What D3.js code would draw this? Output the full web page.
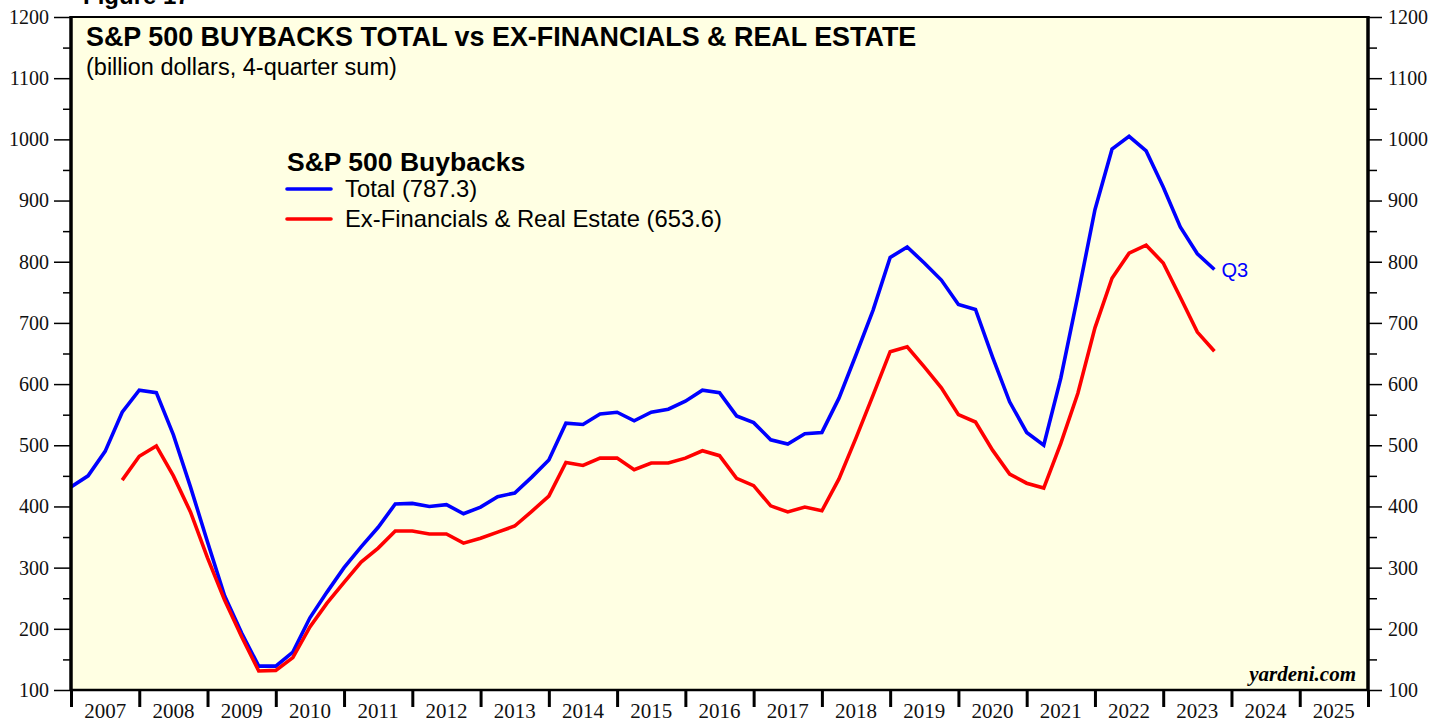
<!DOCTYPE html>
<html><head><meta charset="utf-8">
<script src="https://cdn.jsdelivr.net/npm/d3@7"></script>
<style>body{margin:0;background:#fff;}svg{display:block;}</style>
</head><body>
<svg id="chart" width="1448" height="721"></svg>
<script>
// ---- data (billion dollars, 4-quarter sum), quarterly from 2006Q4 to 2023Q3 ----
const firstYear = 2006, firstQ = 4;
const totalBuybacks = [432,450,490,554,590,586,517,432,342,254,193,139,139,162,218,260,300,334,366,404,405,400,403,388,399,416,422,448,476,536,534,551,554,540,554,559,572,590,586,548,537,509,502,519,521,577,648,721,807,824,798,770,730,722,644,571,521,500,610,745,885,984,1005,981,922,857,813,787.3];
const exFinRE = [null,null,null,443,482,499,450,391,316,247,187,131,132,153,203,242,276,309,332,360,360,355,355,340,348,358,368,392,417,472,467,479,479,460,471,471,479,491,483,446,434,401,391,399,393,445,512,582,653,661,628,594,550,538,492,453,438,430,503,585,692,773,814,827,798,742,685,653.6];
const yearLabels = ["2007","2008","2009","2010","2011","2012","2013","2014","2015","2016","2017","2018","2019","2020","2021","2022","2023","2024","2025"];
const yTicks = [100,200,300,400,500,600,700,800,900,1000,1100,1200];
const yMinorTicks = [150,250,350,450,550,650,750,850,950,1050,1150];
const seriesNames = ["Total (787.3)", "Ex-Financials & Real Estate (653.6)"];
const seriesColors = ["#0000ff", "#ff0000"];

// quarter-end position in fractional years
const quarterPos = totalBuybacks.map((_, i) => {
  const q = firstQ - 1 + i;
  return firstYear + Math.floor(q / 4) + ((q % 4) + 1) / 4;
});

const svg = d3.select("#chart");
const L = 71, R = 1368, T = 17, B = 690;
const x = d3.scaleLinear().domain([2007, 2026]).range([L, R]);
const y = d3.scaleLinear().domain([100, 1200]).range([B, T]);

svg.append("rect").attr("x", L).attr("y", T).attr("width", R - L).attr("height", B - T).attr("fill", "#ffffe3");

// Figure label (cut off at top)
svg.append("text").attr("x", 83).attr("y", 4).attr("font-family", "Liberation Sans, Arial, sans-serif")
  .attr("font-weight", "bold").attr("font-size", 24).text("Figure 17");

// series lines
const line = d3.line().defined(d => d[1] != null).x(d => x(d[0])).y(d => y(d[1]));
svg.append("clipPath").attr("id", "clip").append("rect").attr("x", L).attr("y", T).attr("width", R - L).attr("height", B - T);
[totalBuybacks, exFinRE].forEach((s, k) => {
  svg.append("path").datum(quarterPos.map((p, i) => [p, s[i]]))
    .attr("d", line).attr("fill", "none").attr("stroke", seriesColors[k])
    .attr("stroke-width", 3.6).attr("stroke-linejoin", "miter").attr("clip-path", "url(#clip)");
});

// axes
const serif = "Liberation Serif, Times New Roman, serif";
const leftAxis = d3.axisLeft(y).tickValues(yTicks).tickSize(17).tickPadding(5).tickFormat(d3.format("d"));
const gl = svg.append("g").attr("transform", `translate(${L},0)`).call(leftAxis);
const rightAxis = d3.axisRight(y).tickValues(yTicks).tickSize(14).tickPadding(6).tickFormat(d3.format("d"));
const gr = svg.append("g").attr("transform", `translate(${R},0)`).call(rightAxis);
[gl, gr].forEach(g => {
  g.select(".domain").remove();
  g.selectAll("line").attr("stroke", "#000").attr("stroke-width", 1.5);
  g.selectAll("text").attr("font-family", serif).attr("font-size", 20).attr("fill", "#111");
});
const glm = svg.append("g").attr("transform", `translate(${L},0)`).call(d3.axisLeft(y).tickValues(yMinorTicks).tickSize(8).tickFormat(""));
const grm = svg.append("g").attr("transform", `translate(${R},0)`).call(d3.axisRight(y).tickValues(yMinorTicks).tickSize(9).tickFormat(""));
[glm, grm].forEach(g => { g.select(".domain").remove(); g.selectAll("line").attr("stroke", "#000").attr("stroke-width", 1.5); });

// bottom axis: year boundaries ticks, labels centered in year
const yearBounds = yearLabels.map(d => +d).concat([+yearLabels[yearLabels.length - 1] + 1]);
const gb = svg.append("g").attr("transform", `translate(0,${B})`)
  .call(d3.axisBottom(x).tickValues(yearBounds).tickSize(17).tickFormat(""));
gb.select(".domain").remove();
gb.selectAll("line").attr("stroke", "#000").attr("stroke-width", 3);
svg.append("g").selectAll("text").data(yearLabels).join("text")
  .attr("x", d => x(+d + 0.5)).attr("y", 718).attr("text-anchor", "middle")
  .attr("font-family", serif).attr("font-size", 21).attr("fill", "#111").text(d => d);

// frame
svg.append("line").attr("x1", L).attr("x2", R).attr("y1", T).attr("y2", T).attr("stroke", "#000").attr("stroke-width", 2);
svg.append("line").attr("x1", L).attr("x2", R).attr("y1", B).attr("y2", B).attr("stroke", "#000").attr("stroke-width", 2.5);
svg.append("line").attr("x1", L).attr("x2", L).attr("y1", T - 1).attr("y2", B + 1).attr("stroke", "#000").attr("stroke-width", 3.5);
svg.append("line").attr("x1", R).attr("x2", R).attr("y1", T - 1).attr("y2", B + 1).attr("stroke", "#000").attr("stroke-width", 3.5);

// titles
const sans = "Liberation Sans, Arial, sans-serif";
svg.append("text").attr("x", 86).attr("y", 46).attr("font-family", sans).attr("font-weight", "bold")
  .attr("font-size", 26.9).attr("fill", "#000").text("S&P 500 BUYBACKS TOTAL vs EX-FINANCIALS & REAL ESTATE");
svg.append("text").attr("x", 86).attr("y", 75).attr("font-family", sans)
  .attr("font-size", 23.5).attr("fill", "#000").text("(billion dollars, 4-quarter sum)");

// legend
svg.append("text").attr("x", 287).attr("y", 171).attr("font-family", sans).attr("font-weight", "bold")
  .attr("font-size", 26.5).attr("fill", "#000").text("S&P 500 Buybacks");
seriesNames.forEach((n, k) => {
  const yy = 189 + k * 30;
  svg.append("line").attr("x1", 287).attr("x2", 331).attr("y1", yy).attr("y2", yy)
    .attr("stroke", seriesColors[k]).attr("stroke-width", 3.6).attr("stroke-linecap", "round");
  svg.append("text").attr("x", 345).attr("y", yy + 8).attr("font-family", sans)
    .attr("font-size", 23.8).attr("fill", "#000").text(n);
});

// Q3 label
const lastI = totalBuybacks.length - 1;
svg.append("text").attr("x", x(quarterPos[lastI]) + 7).attr("y", y(totalBuybacks[lastI]) + 8)
  .attr("font-family", sans).attr("font-size", 20).attr("fill", "#0000ff").text("Q3");

// source
svg.append("text").attr("x", 1356).attr("y", 681).attr("text-anchor", "end").attr("font-family", serif)
  .attr("font-weight", "bold").attr("font-style", "italic").attr("font-size", 21).attr("fill", "#000").text("yardeni.com");
</script>
</body></html>
